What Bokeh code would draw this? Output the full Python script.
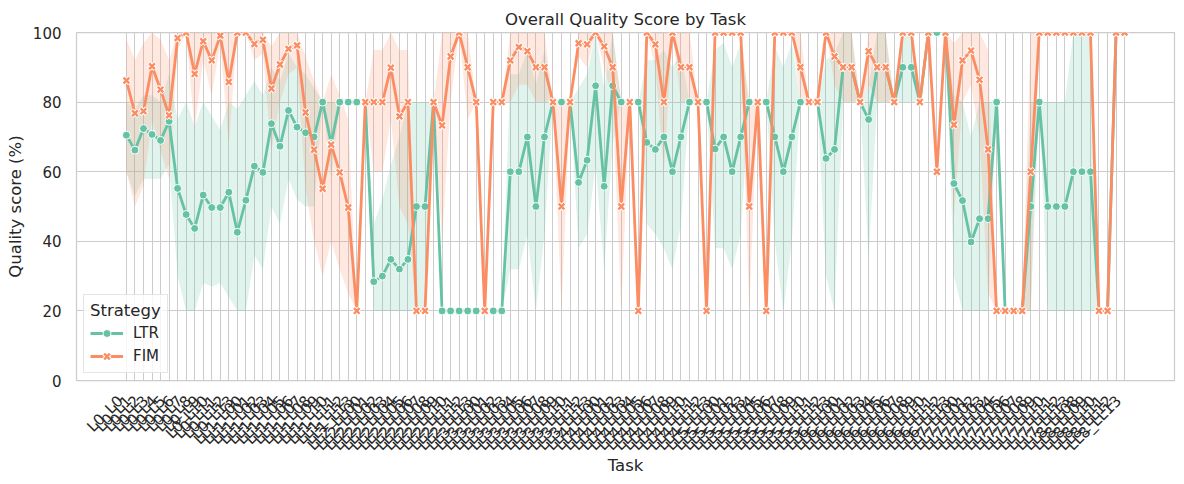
from math import pi

from bokeh.plotting import figure
from bokeh.layouts import column
from bokeh.models import Range1d, FixedTicker, Legend, LegendItem, ColumnDataSource
from bokeh.core.properties import value
from bokeh.embed import file_html
from bokeh.resources import INLINE

# task names (tick labels), one per task
tasks = [
    "L0_L0", "L0_L1", "L0_L2", "L0_L3", "L0_L4", "L0_L5", "L0_L6", "L0_L7", "L0_L8", "L0_L9", "L0_L10", "L0_L11", "L0_L12", "L0_L13",
    "LL1_L00", "LL1_L01", "LL1_L02", "LL1_L03", "LL1_L04", "LL1_L05", "LL1_L06", "LL1_L07", "LL1_L08", "LL1_L09", "LL1_L10", "LL1_L11", "LL1_L12", "LL1_L13",
    "LL2_LL00", "LL2_LL01", "LL2_LL02", "LL2_LL03", "LL2_LL04", "LL2_LL05", "LL2_LL06", "LL2_LL07", "LL2_LL08", "LL2_LL09", "LL2_LL10", "LL2_LL11", "LL2_LL12", "LL2_LL13",
    "LL3_LL00", "LL3_LL01", "LL3_LL02", "LL3_LL03", "LL3_LL04", "LL3_LL05", "LL3_LL06", "LL3_LL07", "LL3_LL08", "LL3_LL09", "LL3_LL10", "LL3_LL11", "LL3_LL12", "LL3_LL13",
    "LL4_LL00", "LL4_LL01", "LL4_LL02", "LL4_LL03", "LL4_LL04", "LL4_LL05", "LL4_LL06", "LL4_LL07", "LL4_LL08", "LL4_LL09", "LL4_LL10", "LL4_LL11", "LL4_LL12", "LL4_LL13",
    "LL5_LL00", "LL5_LL01", "LL5_LL02", "LL5_LL03", "LL5_LL04", "LL5_LL05", "LL5_LL06", "LL5_LL07", "LL5_LL08", "LL5_LL09", "LL5_LL10", "LL5_LL11", "LL5_LL12", "LL5_LL13",
    "LL6_LL00", "LL6_LL01", "LL6_LL02", "LL6_LL03", "LL6_LL04", "LL6_LL05", "LL6_LL06", "LL6_LL07", "LL6_LL08", "LL6_LL09", "LL6_LL10", "LL6_LL11", "LL6_LL12", "LL6_LL13",
    "LL7_LL00", "LL7_LL01", "LL7_LL02", "LL7_LL03", "LL7_LL04", "LL7_LL05", "LL7_LL06", "LL7_LL07", "LL7_LL08", "LL7_LL09", "LL7_LL10", "LL7_LL11", "LL7_LL12", "LL7_LL13",
    "LL8_LL08", "LL8_LL09", "LL8_LL10", "LL8_LL11", "LL8_LL12", "LL8_LL13",
]

# mean quality score per task (%)
ltr_mean = [
    70.5, 66.2, 72.4, 70.7, 69.0, 74.5, 55.2, 47.7, 43.7, 53.3, 49.7, 49.7, 54.1, 42.6,
    51.8, 61.6, 59.8, 73.8, 67.3, 77.6, 72.8, 71.2, 70.0, 80, 68.1, 80, 80, 80,
    80, 28.4, 30.0, 34.8, 32.0, 34.8, 50, 50, 80, 20, 20, 20, 20, 20,
    20, 20, 20, 60, 60, 70, 50, 70, 80, 80, 80, 56.9, 63.3, 84.7,
    55.8, 84.7, 80, 80, 80, 68.4, 66.4, 70, 60, 70, 80, 80, 80, 66.5,
    70, 60, 70, 80, 80, 80, 70, 60, 70, 80, 80, 80, 63.8, 66.4,
    90, 90, 80, 75, 90, 90, 80, 90, 90, 80, 100, 100, 100, 56.6,
    51.7, 39.8, 46.5, 46.5, 80, 20, 20, 20, 50, 80, 50, 50, 50, 60,
    60, 60, 20, 20, 100, 100,
]
fim_mean = [
    86.2, 76.8, 77.4, 90.3, 83.6, 76.2, 98.4, 100, 88.1, 97.5, 92.0, 99.1, 85.8, 100,
    100, 96.7, 97.9, 83.9, 90.8, 95.3, 96.3, 77.0, 66.3, 55.1, 67.8, 59.8, 49.7, 20,
    80, 80, 80, 89.9, 75.9, 80, 20, 20, 80, 73.3, 93.1, 100, 90, 80,
    20, 80, 80, 92, 95.8, 94.6, 90, 90, 80, 50, 80, 96.9, 96.6, 100,
    96, 90, 50, 80, 20, 100, 96.6, 80, 100, 90, 90, 80, 20, 100,
    100, 100, 100, 50, 80, 20, 100, 100, 100, 90, 80, 80, 100, 93.1,
    90, 90, 80, 94.6, 90, 90, 80, 100, 100, 80, 100, 60, 100, 73.5,
    92, 94.8, 86.4, 66.4, 20, 20, 20, 20, 60, 100, 100, 100, 100, 100,
    100, 100, 20, 20, 100, 100,
]

# 95% confidence interval bounds
ltr_lo = [
    60, 53, 58, 58, 58, 62, 30, 20, 20, 28, 27, 28, 24, 20,
    20, 36, 32, 50, 45, 58, 52, 50, 50, 80, 58, 80, 80, 80,
    80, 20, 20, 20, 20, 20, 20, 20, 80, 20, 20, 20, 20, 20,
    20, 20, 20, 32, 32, 42, 20, 42, 80, 80, 80, 38, 42, 62,
    32, 68, 80, 80, 80, 45, 42, 38, 32, 45, 80, 80, 80, 38,
    38, 32, 42, 80, 80, 80, 40, 20, 40, 80, 80, 80, 30, 20,
    80, 80, 80, 35, 80, 80, 80, 80, 80, 80, 100, 100, 100, 30,
    20, 20, 20, 20, 80, 20, 20, 20, 20, 80, 20, 20, 20, 20,
    20, 20, 20, 20, 100, 100,
]
ltr_hi = [
    80, 78, 82, 82, 80, 88, 75, 80, 73, 80, 76, 72, 80, 78,
    82, 86, 82, 90, 86, 94, 90, 88, 84, 80, 80, 80, 80, 80,
    80, 45, 52, 62, 70, 80, 80, 80, 80, 20, 20, 20, 20, 20,
    20, 20, 20, 88, 88, 95, 85, 95, 80, 80, 80, 84, 88, 100,
    84, 100, 80, 80, 80, 92, 92, 95, 90, 94, 80, 80, 80, 95,
    97, 90, 97, 80, 80, 80, 96, 90, 97, 80, 80, 80, 92, 94,
    100, 100, 80, 85, 100, 100, 80, 100, 100, 80, 100, 100, 100, 82,
    80, 70, 80, 80, 80, 20, 20, 20, 80, 80, 80, 80, 80, 100,
    100, 100, 20, 20, 100, 100,
]
fim_lo = [
    60, 50, 56, 75, 66, 58, 95, 100, 72, 92, 82, 97, 68, 100,
    100, 92, 94, 66, 80, 88, 90, 55, 40, 30, 40, 32, 25, 20,
    80, 60, 60, 75, 50, 45, 20, 20, 80, 40, 80, 100, 75, 80,
    20, 80, 80, 80, 85, 85, 80, 80, 80, 20, 80, 93, 90, 100,
    90, 80, 20, 80, 20, 100, 90, 60, 100, 80, 80, 80, 20, 100,
    100, 100, 100, 20, 80, 20, 100, 100, 100, 80, 80, 80, 100, 85,
    80, 80, 80, 85, 80, 80, 80, 100, 100, 80, 100, 60, 100, 47,
    80, 85, 70, 25, 20, 20, 20, 20, 20, 100, 100, 100, 100, 100,
    100, 100, 20, 20, 100, 100,
]
fim_hi = [
    98, 92, 97, 100, 98, 92, 100, 100, 100, 100, 100, 100, 100, 100,
    100, 100, 100, 96, 100, 100, 100, 93, 86, 80, 88, 82, 75, 20,
    80, 95, 95, 100, 95, 95, 20, 20, 80, 100, 100, 100, 100, 80,
    20, 80, 80, 100, 100, 100, 100, 100, 80, 80, 80, 100, 100, 100,
    100, 100, 80, 80, 20, 100, 100, 100, 100, 100, 100, 80, 20, 100,
    100, 100, 100, 80, 80, 20, 100, 100, 100, 100, 80, 80, 100, 100,
    100, 100, 80, 100, 100, 100, 80, 100, 100, 80, 100, 60, 100, 97,
    100, 100, 100, 95, 20, 20, 20, 20, 100, 100, 100, 100, 100, 100,
    100, 100, 20, 20, 100, 100,
]

LTR_COLOR = "#66c2a5"
FIM_COLOR = "#fc8d62"
TEXT = "#262626"
FONT = "DejaVu Sans"

# page geometry (px)
W = 1176
BOTTOM_PAD = 10      # room under the frame for the "0" tick label
TOP_H = 380 + BOTTOM_PAD
BOT_H = 476 - TOP_H  # strip under the main figure holding the rotated task labels
LEFT, RIGHT = 76, 2

pos = list(range(len(tasks)))
src = ColumnDataSource(dict(x=pos, ltr=ltr_mean, fim=fim_mean, task=tasks,
                            ltr_lo=ltr_lo, ltr_hi=ltr_hi, fim_lo=fim_lo, fim_hi=fim_hi))

n = len(tasks)
pad = 0.05 * (n - 1)
x0, x1 = -pad, n - 1 + pad
p = figure(width=W, height=TOP_H, output_backend="svg", toolbar_location=None,
           x_range=Range1d(x0, x1), y_range=Range1d(0, 100),
           min_border_left=LEFT, min_border_right=RIGHT, min_border_top=32,
           min_border_bottom=BOTTOM_PAD,
           title="Overall Quality Score by Task")
p.background_fill_color = "white"
p.border_fill_color = "white"
p.outline_line_color = "#cccccc"
p.outline_line_width = 1.25

p.title.align = "center"
p.title.text_font = FONT
p.title.text_font_size = "16.5px"
p.title.text_font_style = "normal"
p.title.text_color = TEXT
p.title.standoff = 7

# axes
p.xaxis.visible = False
p.xgrid.ticker = FixedTicker(ticks=pos)
p.yaxis.ticker = FixedTicker(ticks=[0, 20, 40, 60, 80, 100])
ax = p.yaxis[0]
ax.axis_line_color = None
ax.major_tick_line_color = None
ax.minor_tick_line_color = None
ax.major_tick_out = 0
ax.major_tick_in = 0
ax.minor_tick_out = 0
ax.minor_tick_in = 0
ax.major_label_text_font = FONT
ax.major_label_text_font_size = "15px"
ax.major_label_text_color = TEXT
ax.axis_label = "Quality score (%)"
ax.axis_label_text_font = FONT
ax.axis_label_text_font_size = "16.5px"
ax.axis_label_text_font_style = "normal"
ax.axis_label_text_color = TEXT
ax.major_label_standoff = 15
ax.axis_label_standoff = 5

p.xgrid.grid_line_color = "#cccccc"
p.ygrid.grid_line_color = "#cccccc"
p.xgrid.grid_line_width = 1
p.ygrid.grid_line_width = 1

# confidence bands below the lines
p.varea(x="x", y1="ltr_lo", y2="ltr_hi", source=src, fill_color=LTR_COLOR, fill_alpha=0.2)
p.varea(x="x", y1="fim_lo", y2="fim_hi", source=src, fill_color=FIM_COLOR, fill_alpha=0.2)

# LTR line with round markers
ltr_line = p.line(x="x", y="ltr", source=src, line_color=LTR_COLOR, line_width=2.8)
ltr_pts = p.scatter(x="x", y="ltr", source=src, marker="circle", size=8,
                    fill_color=LTR_COLOR, line_color="white", line_width=1)

# FIM line with x markers (white halo under the coloured x)
fim_line = p.line(x="x", y="fim", source=src, line_color=FIM_COLOR, line_width=2.8)
fim_halo = p.scatter(x="x", y="fim", source=src, marker="x", size=9,
                     line_color="white", line_width=4.5)
fim_pts = p.scatter(x="x", y="fim", source=src, marker="x", size=8,
                    line_color=FIM_COLOR, line_width=2.4)

legend = Legend(items=[LegendItem(label="LTR", renderers=[ltr_line, ltr_pts]),
                       LegendItem(label="FIM", renderers=[fim_line, fim_halo, fim_pts])],
                location="bottom_left", title="Strategy")
legend.margin = 7
legend.padding = 6
legend.spacing = 3
legend.label_height = 20
legend.glyph_width = 33
legend.label_standoff = 10
legend.title_standoff = 3
legend.label_text_font = FONT
legend.label_text_font_size = "15px"
legend.label_text_color = TEXT
legend.title_text_font = FONT
legend.title_text_font_size = "16.5px"
legend.title_text_font_style = "normal"
legend.title_text_color = TEXT
legend.border_line_color = "#cccccc"
legend.background_fill_alpha = 0.8
p.add_layout(legend)

# strip below; the column lines its frame up with the main frame, so it shares the x range.
# y = pixels below the main frame bottom (negative)
strip = figure(width=W, height=BOT_H, output_backend="svg", toolbar_location=None,
               x_range=p.x_range,
               y_range=Range1d(-(BOTTOM_PAD + BOT_H), -BOTTOM_PAD),
               x_axis_location=None, y_axis_location=None,
               min_border_left=LEFT, min_border_right=RIGHT, min_border_top=0, min_border_bottom=0)
strip.outline_line_color = None
strip.grid.visible = False
strip.background_fill_color = "white"
strip.border_fill_color = "white"

# rotated tick labels, right end at the tick (as matplotlib ha="right")
strip.text(x="x", y=-18, text="task", source=src, angle=pi / 4, x_offset=-6,
           text_align="right", text_baseline="middle",
           text_font=value(FONT), text_font_size="15px", text_color=TEXT)
strip.text(x=[(x0 + x1) / 2], y=[-85], text=["Task"], text_align="center", text_baseline="middle",
           text_font=value(FONT), text_font_size="16.5px", text_color=TEXT)

open("out.html", "w").write(file_html(column(p, strip), INLINE))
